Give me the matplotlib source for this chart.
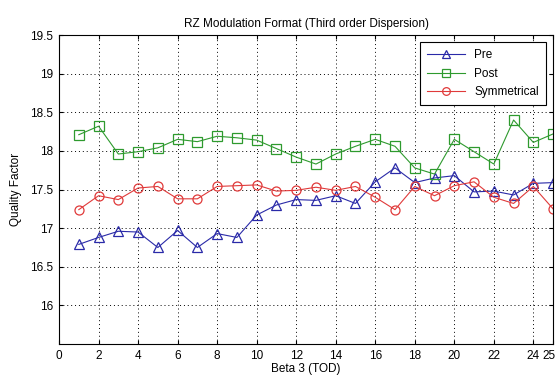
import matplotlib.pyplot as plt
from matplotlib.transforms import ScaledTranslation

plt.rcParams['font.family'] = ['Liberation Sans', 'DejaVu Sans']

beta3 = list(range(1, 26))
pre = [16.79, 16.88, 16.96, 16.95, 16.75, 16.97, 16.75, 16.93, 16.88, 17.17,
       17.30, 17.37, 17.36, 17.42, 17.32, 17.60, 17.78, 17.59, 17.65, 17.68,
       17.47, 17.48, 17.43, 17.58, 17.59]
post = [18.21, 18.32, 17.96, 17.99, 18.04, 18.15, 18.12, 18.19, 18.17, 18.14,
        18.03, 17.92, 17.83, 17.96, 18.06, 18.15, 18.06, 17.78, 17.70, 18.15,
        17.99, 17.83, 18.40, 18.11, 18.22]
symm = [17.24, 17.42, 17.37, 17.52, 17.54, 17.38, 17.38, 17.54, 17.55, 17.56,
        17.48, 17.49, 17.53, 17.49, 17.54, 17.40, 17.24, 17.54, 17.42, 17.55,
        17.60, 17.40, 17.32, 17.54, 17.25]

xticks = [0, 2, 4, 6, 8, 10, 12, 14, 16, 18, 20, 22, 24, 25]
yticks = [16, 16.5, 17, 17.5, 18, 18.5, 19, 19.5]

fig = plt.figure(figsize=(5.57, 3.81), dpi=100)
ax = fig.add_axes([0.106, 0.097, 0.887, 0.811])

mk = dict(markersize=6.5, markerfacecolor='none', linewidth=0.8, markeredgewidth=0.9)
ax.plot(beta3, pre, '-^', color='#2a2aa8', label='Pre', **mk)
ax.plot(beta3, post, '-s', color='#2e9a2e', label='Post', **mk)
ax.plot(beta3, symm, '-o', color='#e03a3a', label='Symmetrical', **mk)

ax.set_xlim(0, 25)
ax.set_ylim(15.5, 19.5)
ax.set_xticks(xticks)
ax.set_yticks(yticks)
ax.set_yticklabels([f'{v:g}' for v in yticks])
ax.tick_params(direction='in', top=True, right=True, labelsize=8.5, length=3, pad=4)
ax.grid(True, color='black', linestyle=(0, (1, 3)), linewidth=0.7)
for s in ax.spines.values():
    s.set_linewidth(0.8)

# keep the last x label inside the figure
last = ax.get_xticklabels()[-1]
last.set_transform(last.get_transform() + ScaledTranslation(-3 / 72, 0, fig.dpi_scale_trans))

ax.set_title('RZ Modulation Format (Third order Dispersion)', fontsize=8.5, pad=6)
ax.set_xlabel('Beta 3 (TOD)', fontsize=8.5, labelpad=1)
ax.set_ylabel('Quality Factor', fontsize=8.5, labelpad=6)

leg = ax.legend(loc='upper right', fontsize=8.5, fancybox=False, framealpha=1,
                edgecolor='black', borderaxespad=0.6, handlelength=3.2,
                borderpad=0.6, labelspacing=0.55, markerscale=0.85)
leg.get_frame().set_linewidth(0.8)

fig.savefig('out.png', dpi=100)
